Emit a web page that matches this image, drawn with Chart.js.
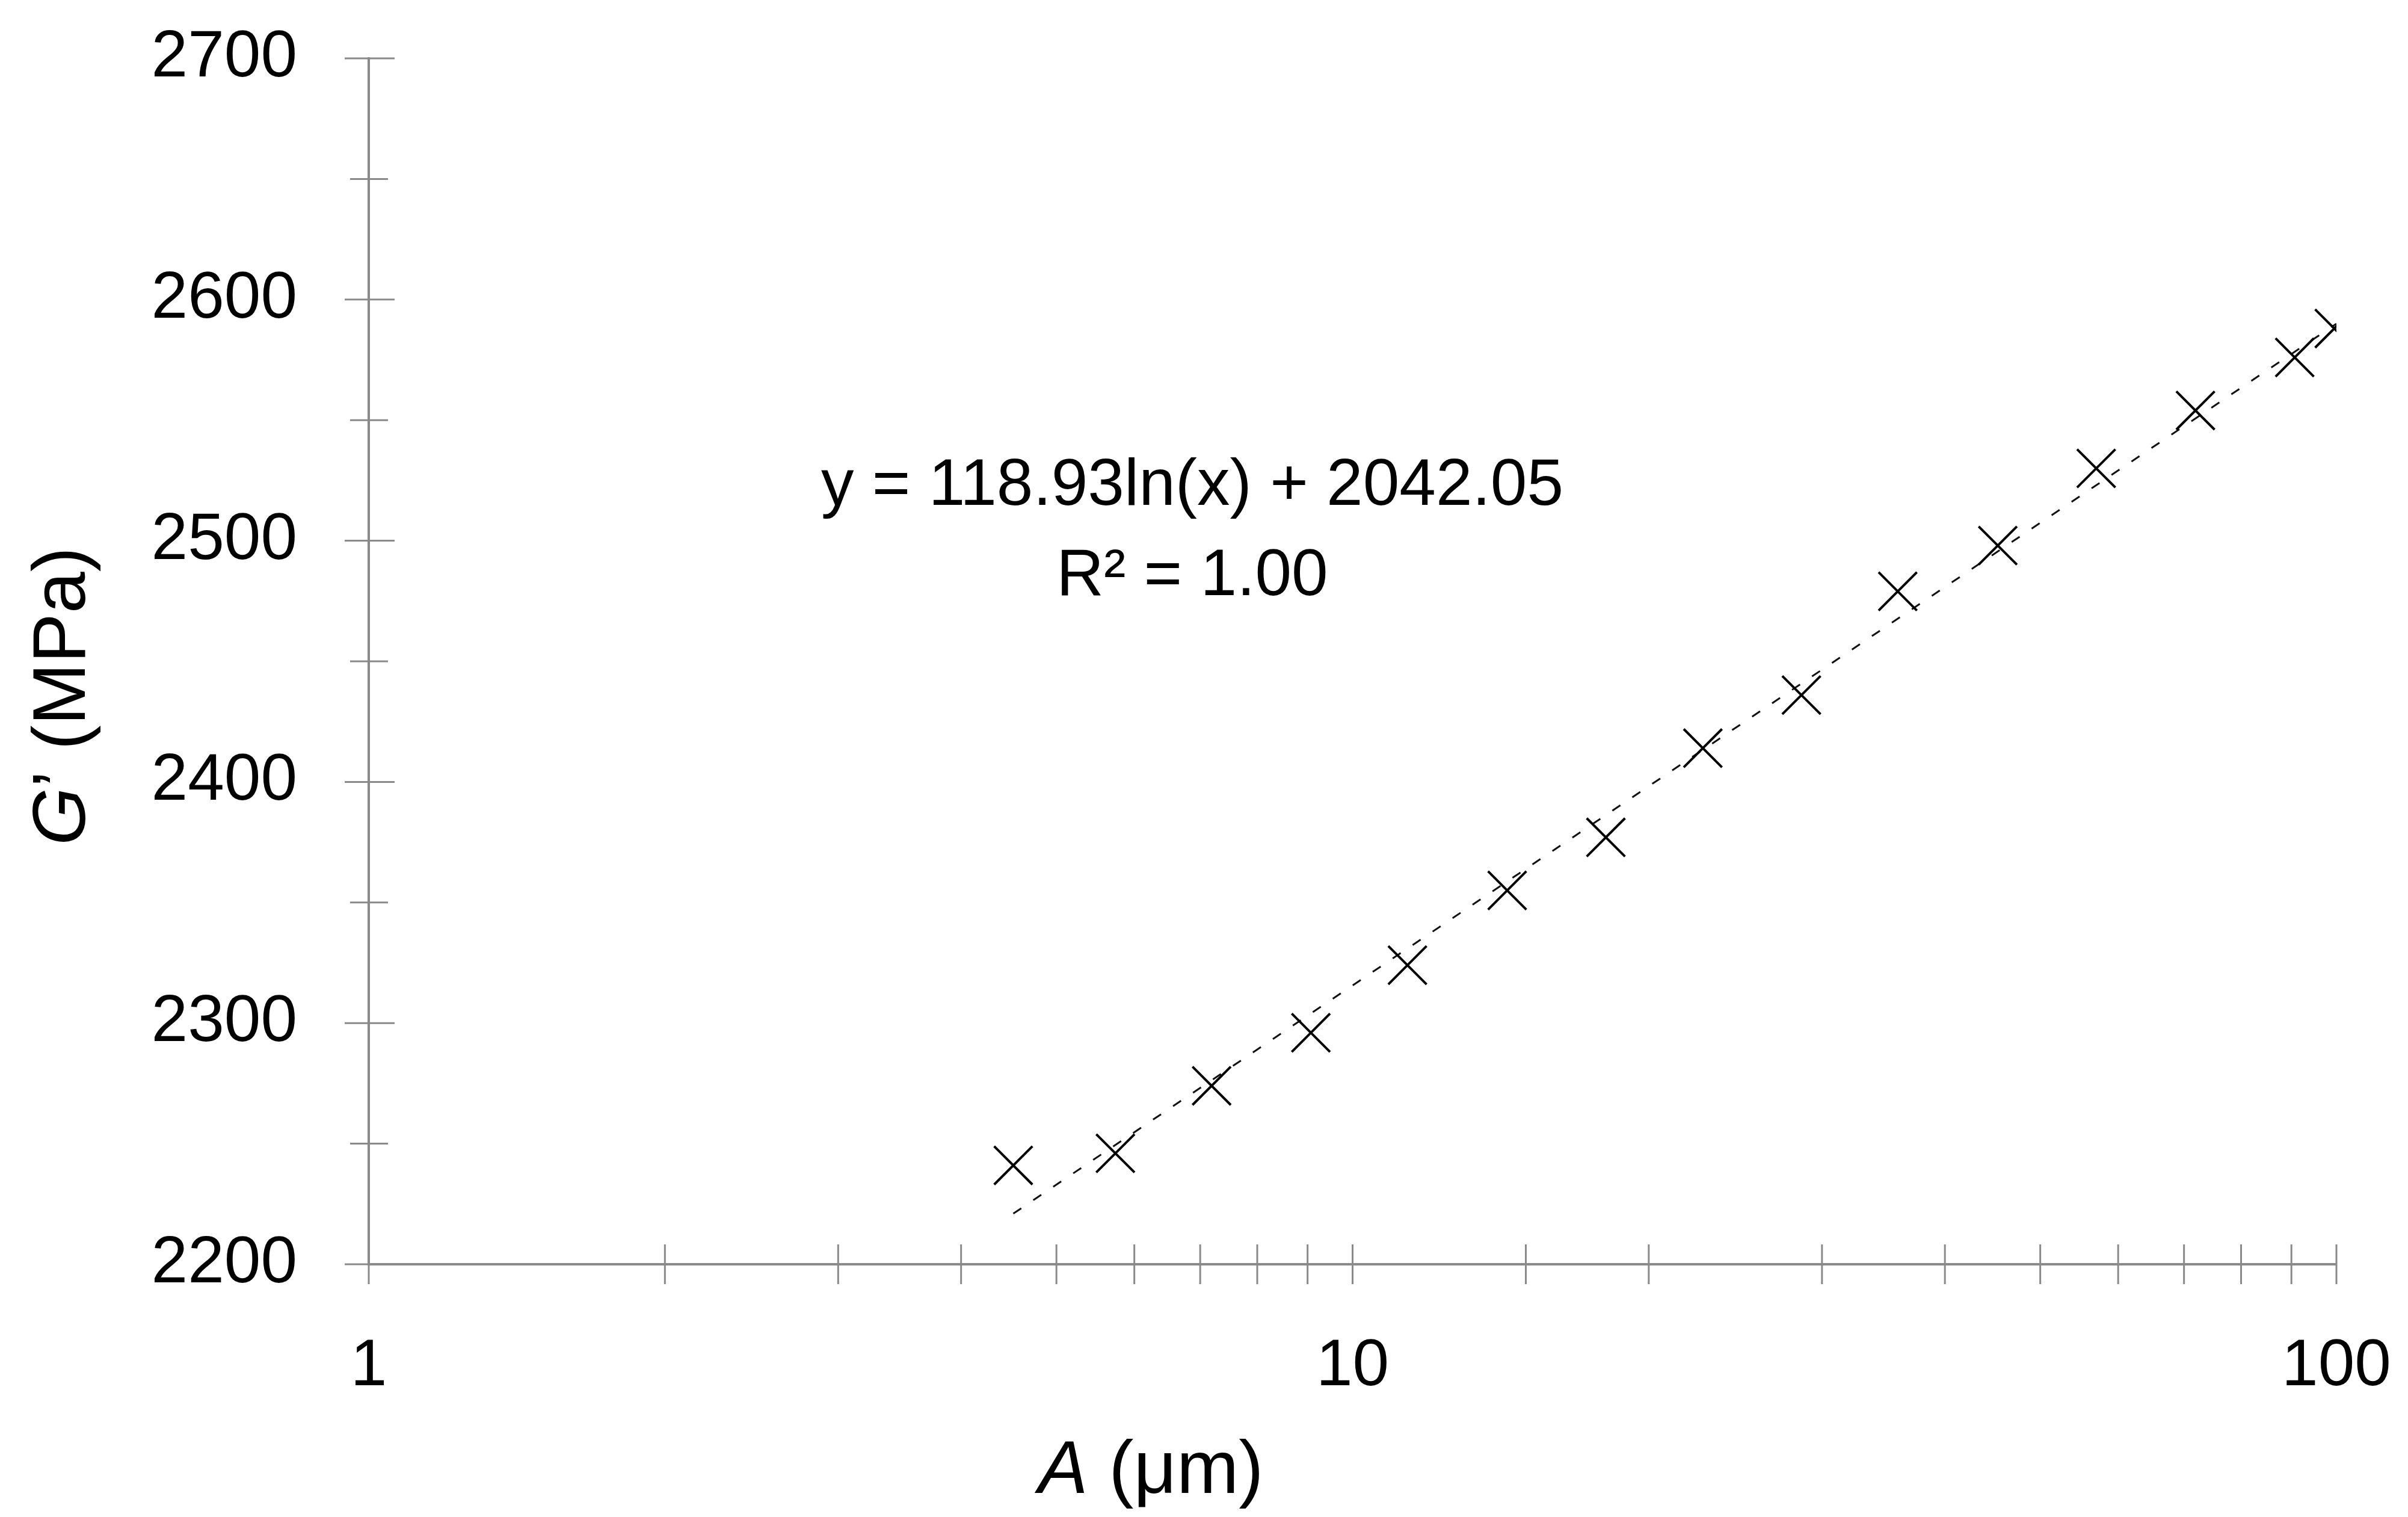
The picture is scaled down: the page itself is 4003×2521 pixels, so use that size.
<!DOCTYPE html>
<html>
<head>
<meta charset="utf-8">
<script src="https://cdn.jsdelivr.net/npm/chart.js@4/dist/chart.umd.min.js"></script>
<style>
  html, body { margin: 0; padding: 0; background: #fff; }
  canvas { display: block; }
</style>
</head>
<body>
<canvas id="chart" width="4003" height="2521"></canvas>
<script>
// Amplitude A (µm) and storage modulus G' (MPa)
const amplitude = [4.52, 5.74, 7.19, 9.07, 11.37, 14.36, 18.09, 22.70, 28.59, 35.82, 45.27, 57.0, 71.9, 90.7, 99.5];
const modulus   = [2241, 2246, 2274, 2296, 2324, 2355, 2377, 2414, 2436, 2479, 2498, 2530, 2554, 2576, 2588];

// dashed log trendline, end points as drawn
const trendA = [4.52, 100];
const trendG = [2221, 2590];

const xLabelled = [1, 10, 100];
const yLabelStep = 100;

const eqLines = ['y = 118.93ln(x) + 2042.05', 'R\u00B2 = 1.00'];

const AXIS = '#8a8a8a';
const FONT = '"Liberation Sans", Arial, sans-serif';

// scale boxes keep a fixed size, no extra room for overflowing labels
function fixBox(size) {
  return (s) => {
    if (s.isHorizontal()) s.height = size; else s.width = size;
    s.paddingTop = s.paddingBottom = s.paddingLeft = s.paddingRight = 0;
  };
}

// crossing tick marks (Excel style) drawn from the scales' own ticks
const axisMarks = {
  id: 'axisMarks',
  beforeDatasetsDraw(chart) {
    const { ctx, scales: { x, y } } = chart;
    ctx.save();
    ctx.strokeStyle = AXIS;
    ctx.lineWidth = 3;
    ctx.beginPath();
    x.ticks.forEach((t) => {
      const px = x.getPixelForValue(t.value);
      ctx.moveTo(px, y.bottom - 33);
      ctx.lineTo(px, y.bottom + 33);
    });
    y.ticks.forEach((t) => {
      const py = y.getPixelForValue(t.value);
      const major = t.value % yLabelStep === 0;
      ctx.moveTo(x.left - (major ? 40 : 31), py);
      ctx.lineTo(x.left + (major ? 43 : 32), py);
    });
    ctx.stroke();
    ctx.restore();
  },
  afterDraw(chart) {
    const { ctx, chartArea: area } = chart;
    ctx.save();
    ctx.fillStyle = '#000';
    ctx.textBaseline = 'alphabetic';

    // equation + R²
    ctx.font = `109px ${FONT}`;
    ctx.textAlign = 'center';
    ctx.fillText(eqLines[0], area.left + 1369, area.top + 742);
    ctx.fillText(eqLines[1], area.left + 1369, area.top + 892);

    // x title:  A (µm)
    ctx.textAlign = 'left';
    let tx = area.left + 1113;
    const ty = area.bottom + 380;
    ctx.font = `italic 124px ${FONT}`;
    ctx.fillText('A', tx, ty);
    tx += ctx.measureText('A').width;
    ctx.font = `124px ${FONT}`;
    ctx.fillText(' (\u03BCm)', tx, ty);

    // y title:  G’ (MPa), rotated
    ctx.translate(area.left - 472, area.bottom - 696);
    ctx.rotate(-Math.PI / 2);
    ctx.font = `italic 124px ${FONT}`;
    ctx.fillText('G', 0, 0);
    const w = ctx.measureText('G').width;
    ctx.font = `124px ${FONT}`;
    ctx.fillText('\u2019 (MPa)', w, 0);
    ctx.restore();
  }
};

const tickFont = { family: FONT, size: 109 };

new Chart(document.getElementById('chart'), {
  type: 'scatter',
  data: {
    datasets: [
      {
        label: 'trend',
        data: trendA.map((a, i) => ({ x: a, y: trendG[i] })),
        showLine: true,
        borderColor: '#111',
        borderWidth: 3,
        borderDash: [16, 24],
        pointRadius: 0,
        order: 2,
      },
      {
        label: "G'",
        data: amplitude.map((a, i) => ({ x: a, y: modulus[i] })),
        pointStyle: 'crossRot',
        pointRadius: 45,
        borderColor: '#000',
        backgroundColor: '#000',
        borderWidth: 4,
        order: 1,
      },
    ],
  },
  options: {
    responsive: false,
    devicePixelRatio: 1,
    animation: false,
    layout: { padding: { top: 97, right: 119, left: 0, bottom: 0 } },
    plugins: { legend: { display: false }, tooltip: { enabled: false } },
    scales: {
      x: {
        type: 'logarithmic',
        position: 'bottom',
        min: 1,
        max: 100,
        grid: { display: true, drawOnChartArea: false, drawTicks: false },
        border: { display: true, color: AXIS, width: 4 },
        ticks: {
          autoSkip: false,
          maxRotation: 0,
          padding: 106,
          color: '#000',
          font: tickFont,
          callback: (v) => (xLabelled.includes(v) ? String(v) : ''),
        },
        afterFit: fixBox(420),
      },
      y: {
        min: 2200,
        max: 2700,
        grid: { display: true, drawOnChartArea: false, drawTicks: false },
        border: { display: true, color: AXIS, width: 4 },
        ticks: {
          stepSize: 50,
          padding: 119,
          color: '#000',
          font: tickFont,
          callback: (v) => (v % yLabelStep === 0 ? String(v) : ''),
        },
        afterFit: fixBox(613),
      },
    },
  },
  plugins: [axisMarks],
});
</script>
</body>
</html>
